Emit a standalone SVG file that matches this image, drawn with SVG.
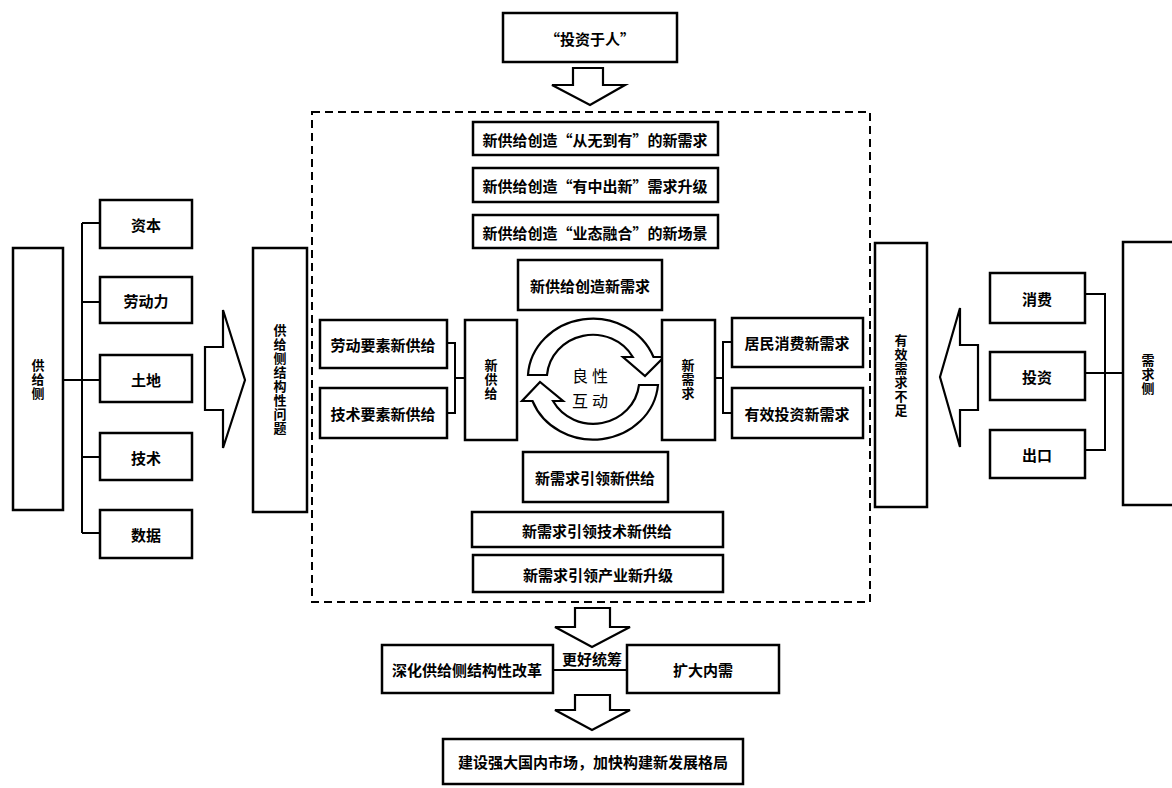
<svg xmlns="http://www.w3.org/2000/svg" width="1172" height="788" viewBox="0 0 1172 788">
<style>
.box{fill:#fff;stroke:#000;stroke-width:2.5}
.ln{fill:none;stroke:#000;stroke-width:2}
.arr{fill:#fff;stroke:#000;stroke-width:2.2;stroke-linejoin:miter}
.t{font-family:"Noto Sans CJK SC","Noto Sans",sans-serif;font-weight:bold;font-size:15px;fill:#000;text-anchor:middle;dominant-baseline:central}
.v{font-family:"Noto Sans CJK SC","Noto Sans",sans-serif;font-weight:bold;font-size:13px;fill:#000;text-anchor:middle;writing-mode:vertical-rl;letter-spacing:1px}
</style>
<rect width="1172" height="788" fill="#fff"/>

<g id="frame">
<rect x="312" y="112" width="558" height="490" fill="none" stroke="#000" stroke-width="2" stroke-dasharray="8,5"/>
</g>

<g id="connectors">
<path class="ln" d="M63,380 H82 M82,223 V533 M82,223 H100 M82,302 H100 M82,380 H100 M82,457 H100 M82,533 H100"/>
<path class="ln" d="M447,343 H455 V413 H447 M455,378 H465"/>
<path class="ln" d="M715,378 H723 M732,342 H723 V413 H732"/>
<path class="ln" d="M1085,294 H1105 V450 H1085 M1085,373 H1105"/>
<path class="ln" stroke-width="3" d="M1105,373 H1123"/>
<path class="ln" d="M553,670 H627"/>
<polygon class="arr" points="205,347 223,347 223,310 245,380 223,448 223,410 205,410"/>
<polygon class="arr" points="978,345 960,345 960,308 940,377 960,447 960,410 978,410"/>
<polygon class="arr" points="573,68 603,68 603,85 625,85 590,105 552,85 573,85"/>
<polygon class="arr" points="575,608 610,608 610,627 630,627 592,647 555,627 575,627"/>
<polygon class="arr" points="575,695 610,695 610,710 630,710 592,730 555,710 575,710"/>
</g>

<g id="cycle">
<path class="arr" d="M528,375 A65,60 0 0 1 653.5,357 L664,357 L645,376 L623,357 L632.8,357 A46,44 0 0 0 547,375 Z"/>
<path class="arr" d="M658,385 A65,60 0 0 1 532.5,401 L522,401 L540,382 L563,401 L553,401 A46,44 0 0 0 639,385 Z"/>
<text font-family="Noto Sans CJK SC, sans-serif" font-size="16" text-anchor="middle" dominant-baseline="central" letter-spacing="4"><tspan x="592" y="375">良性</tspan><tspan x="592" y="400">互动</tspan></text>
</g>

<g id="supply-side">
<rect class="box" x="13" y="248" width="50" height="262"/>
<text class="v" x="38" y="380">供给侧</text>
</g>
<g id="capital"><rect class="box" x="100" y="200" width="92" height="48"/><text class="t" x="146" y="224">资本</text></g>
<g id="labor"><rect class="box" x="100" y="277" width="92" height="46"/><text class="t" x="146" y="300">劳动力</text></g>
<g id="land"><rect class="box" x="100" y="355" width="92" height="47"/><text class="t" x="146" y="379">土地</text></g>
<g id="technology"><rect class="box" x="100" y="433" width="92" height="47"/><text class="t" x="146" y="457">技术</text></g>
<g id="data"><rect class="box" x="100" y="510" width="92" height="48"/><text class="t" x="146" y="534">数据</text></g>

<g id="structural-problem">
<rect class="box" x="253" y="248" width="54" height="264"/>
<text class="v" x="280" y="380" font-size="14">供给侧结构性问题</text>
</g>

<g id="invest-people"><rect class="box" x="503" y="13" width="174" height="49"/><text class="t" x="590" y="38">“投资于人”</text></g>

<g id="top1"><rect class="box" x="473" y="122" width="245" height="33"/><text class="t" x="595" y="139">新供给创造“从无到有”的新需求</text></g>
<g id="top2"><rect class="box" x="473" y="168" width="245" height="34"/><text class="t" x="595" y="185">新供给创造“有中出新”需求升级</text></g>
<g id="top3"><rect class="box" x="473" y="215" width="245" height="33"/><text class="t" x="595" y="232">新供给创造“业态融合”的新场景</text></g>
<g id="supply-creates"><rect class="box" x="518" y="260" width="144" height="50"/><text class="t" x="590" y="285">新供给创造新需求</text></g>

<g id="labor-supply"><rect class="box" x="320" y="320" width="127" height="48"/><text class="t" x="383" y="344">劳动要素新供给</text></g>
<g id="tech-supply"><rect class="box" x="320" y="388" width="127" height="50"/><text class="t" x="383" y="413">技术要素新供给</text></g>
<g id="new-supply">
<rect class="box" x="465" y="320" width="52" height="120"/>
<text class="v" x="491" y="380">新供给</text>
</g>
<g id="new-demand">
<rect class="box" x="662" y="320" width="53" height="120"/>
<text class="v" x="688" y="380">新需求</text>
</g>
<g id="consumer-demand"><rect class="box" x="732" y="318" width="131" height="49"/><text class="t" x="797" y="342">居民消费新需求</text></g>
<g id="invest-demand"><rect class="box" x="732" y="388" width="131" height="50"/><text class="t" x="797" y="413">有效投资新需求</text></g>

<g id="demand-leads"><rect class="box" x="523" y="452" width="145" height="50"/><text class="t" x="595" y="477">新需求引领新供给</text></g>
<g id="bottom1"><rect class="box" x="472" y="512" width="251" height="35"/><text class="t" x="597" y="530">新需求引领技术新供给</text></g>
<g id="bottom2"><rect class="box" x="473" y="555" width="250" height="37"/><text class="t" x="598" y="574">新需求引领产业新升级</text></g>

<g id="insufficient-demand">
<rect class="box" x="875" y="243" width="52" height="264"/>
<text class="v" x="901" y="376" font-size="14" font-weight="500">有效需求不足</text>
</g>
<g id="consumption"><rect class="box" x="990" y="273" width="95" height="50"/><text class="t" x="1037" y="298">消费</text></g>
<g id="investment"><rect class="box" x="990" y="352" width="95" height="48"/><text class="t" x="1037" y="376">投资</text></g>
<g id="export"><rect class="box" x="990" y="430" width="95" height="48"/><text class="t" x="1037" y="454">出口</text></g>
<g id="demand-side">
<rect class="box" x="1123" y="242" width="60" height="263"/>
<text class="v" x="1148" y="375" letter-spacing="2px">需求侧</text>
</g>

<g id="deepen-reform"><rect class="box" x="382" y="645" width="171" height="48"/><text class="t" x="467" y="669">深化供给侧结构性改革</text></g>
<g id="expand-demand"><rect class="box" x="627" y="645" width="152" height="48"/><text class="t" x="703" y="669">扩大内需</text></g>
<text class="t" x="592" y="658" font-size="13">更好统筹</text>
<g id="final"><rect class="box" x="443" y="739" width="300" height="45"/><text class="t" x="593" y="761">建设强大国内市场，加快构建新发展格局</text></g>
</svg>
